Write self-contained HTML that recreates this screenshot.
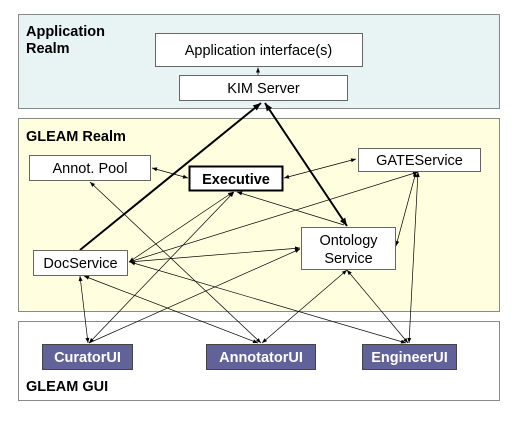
<!DOCTYPE html>
<html><head><meta charset="utf-8"><style>
html,body{margin:0;padding:0;background:#fff}
svg{display:block}
text{font-family:"Liberation Sans",Arial,sans-serif}
</style></head><body>
<svg width="524" height="430" viewBox="0 0 524 430" xmlns="http://www.w3.org/2000/svg">
<defs>
<marker id="a" viewBox="0 0 10 10" refX="10" refY="5" markerWidth="9" markerHeight="8" markerUnits="userSpaceOnUse" orient="auto-start-reverse"><path d="M0,1 L10,5 L0,9 z" fill="#000"/></marker>
<marker id="b" viewBox="0 0 10 10" refX="10" refY="5" markerWidth="6" markerHeight="5" markerUnits="userSpaceOnUse" orient="auto-start-reverse"><path d="M0,1 L10,5 L0,9 z" fill="#000"/></marker>
</defs>
<rect x="18.5" y="14.5" width="481" height="94" fill="#e8f4f4" stroke="#8a8a8a"/>
<rect x="18.5" y="118.5" width="481" height="193" fill="#ffffdf" stroke="#8a8a8a"/>
<rect x="18.5" y="321.5" width="481" height="79" fill="#fff" stroke="#8a8a8a"/>
<text x="26" y="36" font-size="14.5" font-weight="bold">Application</text>
<text x="26" y="53" font-size="14.5" font-weight="bold">Realm</text>
<text x="26" y="141" font-size="14.5" font-weight="bold">GLEAM Realm</text>
<text x="26" y="391" font-size="14.5" font-weight="bold">GLEAM GUI</text>

<g stroke="#000" stroke-width="0.7" fill="none">
<line x1="258" y1="75" x2="258" y2="67.5" marker-end="url(#b)"/>
<line x1="152" y1="168" x2="188" y2="178" marker-start="url(#b)" marker-end="url(#b)"/>
<line x1="284" y1="178" x2="356" y2="159" marker-start="url(#b)" marker-end="url(#b)"/>
<line x1="90" y1="182" x2="261" y2="343" marker-start="url(#b)" marker-end="url(#b)"/>
<line x1="233" y1="192" x2="129" y2="262" marker-start="url(#b)" marker-end="url(#b)"/>
<line x1="234" y1="192" x2="89" y2="343" marker-start="url(#b)" marker-end="url(#b)"/>
<line x1="237" y1="192" x2="344" y2="225" marker-start="url(#b)"/>
<line x1="418" y1="172" x2="129" y2="262" marker-start="url(#b)"/>
<line x1="129" y1="262" x2="300" y2="248" marker-end="url(#b)"/>
<line x1="89" y1="343" x2="300" y2="249" marker-end="url(#b)"/>
<line x1="347" y1="270" x2="262" y2="343" marker-start="url(#b)" marker-end="url(#b)"/>
<line x1="347" y1="270" x2="408" y2="343" marker-start="url(#b)" marker-end="url(#b)"/>
<line x1="80" y1="276" x2="88" y2="343" marker-start="url(#b)" marker-end="url(#b)"/>
<line x1="84" y1="276" x2="258" y2="343" marker-start="url(#b)" marker-end="url(#b)"/>
<line x1="130" y1="262" x2="406" y2="343" marker-start="url(#b)" marker-end="url(#b)"/>
<line x1="418" y1="172" x2="409" y2="343" marker-start="url(#b)" marker-end="url(#b)"/>
<line x1="416" y1="172" x2="396" y2="246" marker-start="url(#b)" marker-end="url(#b)"/>
</g>
<g stroke="#000" stroke-width="2" fill="none">
<line x1="80" y1="250" x2="261" y2="103" marker-end="url(#a)"/>
<line x1="347" y1="226" x2="265" y2="103" marker-start="url(#a)" marker-end="url(#a)"/>
</g>

<g stroke="#666" fill="#fff">
<rect x="155.5" y="33.5" width="207" height="33"/>
<rect x="179.5" y="75.5" width="168" height="25"/>
<rect x="29.5" y="155.5" width="121" height="25"/>
<rect x="358.5" y="148.5" width="122" height="23"/>
<rect x="301.5" y="227.5" width="94" height="42"/>
<rect x="33.5" y="250.5" width="94" height="25"/>
</g>
<rect x="189.5" y="166.5" width="93" height="24" fill="#fff" stroke="#000" stroke-width="2"/>
<g fill="#62629a" stroke="#444">
<rect x="42.5" y="344.5" width="90" height="25"/>
<rect x="206.5" y="344.5" width="109" height="25"/>
<rect x="362.5" y="344.5" width="94" height="25"/>
</g>
<g font-size="14.5" text-anchor="middle" fill="#000">
<text x="258.5" y="55">Application interface(s)</text>
<text x="263.5" y="93">KIM Server</text>
<text x="90" y="173">Annot. Pool</text>
<text x="419.5" y="165">GATEService</text>
<text x="348.5" y="245">Ontology</text>
<text x="348.5" y="263">Service</text>
<text x="80.5" y="268">DocService</text>
<text x="236" y="184" font-weight="bold">Executive</text>
</g>
<g font-size="14.5" text-anchor="middle" fill="#fff" font-weight="bold">
<text x="87.5" y="362">CuratorUI</text>
<text x="261" y="362">AnnotatorUI</text>
<text x="409.5" y="362">EngineerUI</text>
</g>
</svg>
</body></html>
